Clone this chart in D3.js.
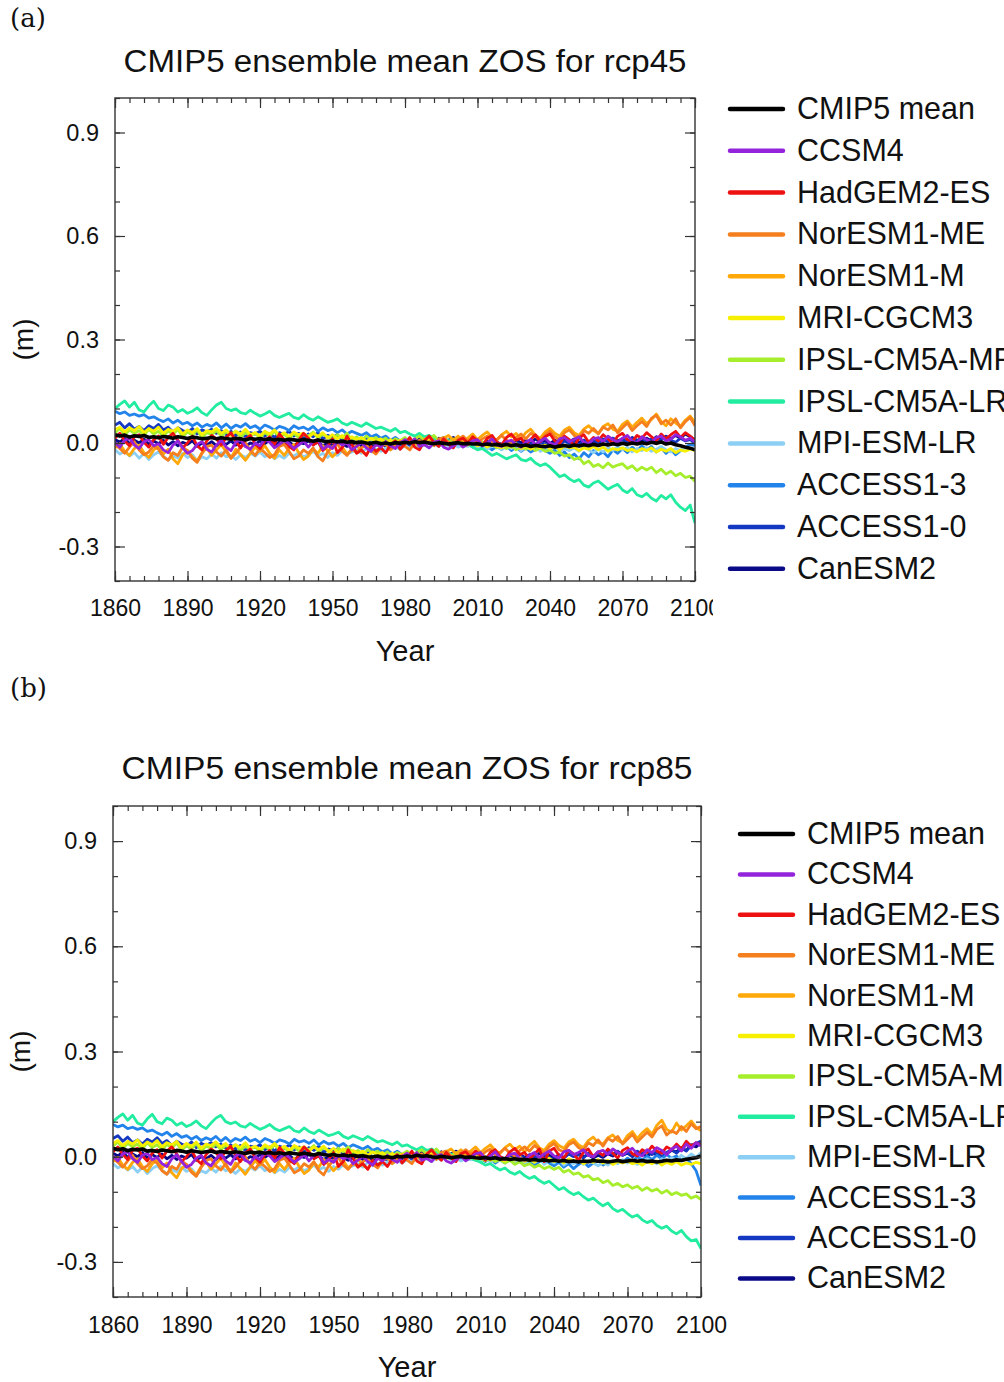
<!DOCTYPE html>
<html><head><meta charset="utf-8">
<script src="https://cdn.jsdelivr.net/npm/d3@7"></script>
<style>
html,body{margin:0;padding:0;background:#fff;overflow:hidden;}
svg{display:block;}
text{font-family:"Liberation Sans",Arial,Helvetica,sans-serif;fill:#111;}
</style></head><body>
<svg id="fig" width="1004" height="1382"></svg>
<script>
// ---------------- DATA ----------------
// sampling: every 2 years; historical 1860..2004, scenario 2006..2100; values in mm
const histYears = d3.range(1860, 2005, 2);
const futYears = d3.range(2006, 2101, 2);

const modelNames = ["CMIP5 mean","CCSM4","HadGEM2-ES","NorESM1-ME","NorESM1-M","MRI-CGCM3",
  "IPSL-CM5A-MR","IPSL-CM5A-LR","MPI-ESM-LR","ACCESS1-3","ACCESS1-0","CanESM2"];
const modelColors = ["#000000","#9324dc","#ee1111","#f57f1e","#ffa80a","#f6f000",
  "#a6ee2c","#22eca0","#8ccff4","#2283ea","#1438c2","#0a0a88"];

const yTickValues = [-0.3, 0.0, 0.3, 0.6, 0.9];
const yTickLabels = ["-0.3","0.0","0.3","0.6","0.9"];
const xTickValues = [1860,1890,1920,1950,1980,2010,2040,2070,2100];
const xTickLabels = ["1860","1890","1920","1950","1980","2010","2040","2070","2100"];

// ---- historical (shared by both scenarios) ----
const hist_CMIP5mean = [24,20,23,17,21, 19,22,16,18,15, 19,17,14,18,16, 13,17,15,12,14, 16,12,15,13,11,
  14,12,9,13,11, 13,10,12,9,11, 8,11,9,7,10, 8,5,9,6,4, 6,3,5,2,4, 1,3,0,-1,2, -2,0,-3,1,-1,
  2,0,4,1,3, 0,-2,1,-1,-3, -1,1,-2];
const hist_CCSM4 = [2,-12,8,14,-6, -16,4,10,-8,-2, -20,-28,-6,6,-14, -30,-22,-4,4,-18, -26,-6,8,-12,-22,
  2,10,-10,-18,0, -8,12,2,-14,-4, 8,-2,-16,-6,6, -12,4,10,-18,-8, -16,4,-6,0,-20, -10,2,-14,-24,-4,
  -12,4,-8,-16,0, 10,-2,12,-10,-4, -14,2,6,-12,-18, -8,2,-12];
const hist_HadGEM2ES = [14,28,6,-8,18, 24,2,-12,10,20, -4,16,28,8,-14, 0,20,-8,-20,6, 22,12,-6,16,30,
  4,-14,10,22,-2, -16,6,18,-4,26, 10,-10,-20,8,28, 14,-6,4,-22,-8, 12,-28,-14,20,-4, -30,-20,-36,-10,-24,
  -14,-28,-6,6,-18, -2,16,-12,-20,6, 20,2,-10,12,-4, -14,8,14];
const hist_NorESM1ME = [-4,-16,-30,-12,4, -20,-34,-26,-8,-18, -40,-50,-28,-36,-12, -22,-44,-56,-30,-10, -6,-26,-38,-20,-44,
  -30,-12,0,-22,-36, -16,-28,-42,-34,-10, -4,-24,-46,-38,-20, -30,-14,-40,-52,-26, -10,-2,-24,-36,-18, -28,-14,-6,-22,-32,
  -12,0,-18,-8,4, -10,-20,2,8,-6, 4,-8,12,16,2, -4,10,20];
const hist_NorESM1M = [-14,-2,-24,-36,-16, -6,-28,-42,-20,-10, -32,-18,-46,-60,-34, -22,-40,-52,-28,-14, -36,-20,-4,-26,-44,
  -18,-34,-50,-30,-12, -24,-8,-30,-44,-20, -36,-16,-4,-28,-48, -38,-18,-30,-8,-22, -40,-26,-12,-32,-20, -6,-24,-34,-14,-26,
  -10,-2,-20,-8,6, -4,12,2,-10,10, 18,4,-4,14,22, 8,20,2];
const hist_MRICGCM3 = [38,46,32,44,36, 48,30,42,34,46, 28,40,34,44,26, 38,30,42,24,36, 32,42,28,38,22,
  34,26,40,24,30, 20,34,26,38,22, 30,18,32,24,28, 16,28,20,30,14, 24,12,22,8,18, 10,16,4,14,6,
  12,0,10,-2,8, 2,10,-4,6,0, 8,-2,4,-6,2, -4,6,-2];
const hist_IPSLMR = [30,42,24,38,28, 36,22,40,26,34, 20,35,25,40,18, 32,22,38,16,30, 24,36,20,32,26,
  34,18,30,22,28, 15,30,20,34,18, 26,12,28,16,24, 20,32,14,26,18, 10,24,14,28,8, 18,6,20,10,16,
  4,14,0,12,6, 16,2,12,20,8, 10,22,6,14,0, 12,4,-4];
const hist_IPSLLR = [100,112,122,104,118, 96,90,108,121,100, 94,110,104,90,97, 86,92,102,88,80, 96,110,118,100,94,
  99,88,84,95,86, 78,84,92,80,74, 80,86,74,70,82, 72,66,76,68,60, 64,70,58,52,60, 54,48,58,50,42,
  46,40,34,42,30, 34,26,20,28,18, 22,14,8,16,6, 10,2,-6];
const hist_MPIESMLR = [-20,-32,-24,-38,-28, -44,-30,-48,-34,-26, -38,-50,-36,-44,-30, -42,-34,-52,-40,-46, -32,-44,-28,-40,-36,
  -48,-34,-42,-30,-38, -26,-40,-32,-46,-36, -44,-30,-38,-28,-40, -34,-24,-38,-30,-42, -28,-36,-22,-32,-26, -20,-30,-16,-26,-18,
  -24,-14,-20,-10,-18, -8,-16,-4,-12,-6, -14,-2,-10,0,-8, -4,-12,-6];
const hist_ACCESS13 = [92,85,90,80,84, 78,82,72,76,68, 62,70,58,66,55, 60,50,58,46,54, 48,58,44,55,42,
  52,46,56,44,50, 40,52,46,38,48, 44,36,50,42,46, 38,48,34,44,36, 40,30,38,26,34, 28,22,30,18,24,
  14,20,8,16,6, 12,2,10,-2,6, 0,8,-4,4,-6, 2,-8,0];
const hist_ACCESS10 = [52,60,44,56,40, 48,36,50,42,54, 38,46,32,44,36, 30,42,26,38,32, 40,28,36,24,34,
  22,32,18,30,26, 34,20,28,16,30, 24,34,20,28,14, 26,18,30,12,22, 16,24,8,20,10, 14,2,12,-2,8,
  0,10,-4,6,-6, 4,-8,6,-4,10, -2,6,-8,2,-6, 4,-4,2];
const hist_CanESM2 = [10,2,14,-2,8, 0,12,-4,6,-2, 8,-6,4,-8,2, -4,6,-10,0,-6, 4,-8,2,-4,6,
  -6,2,-10,0,-4, 6,-2,8,-6,2, -4,4,-8,2,-2, 6,-4,2,-8,0, -6,4,-2,-10,-4, 2,-8,-2,-12,-6,
  -2,-10,0,-6,4, -4,8,0,12,2, 10,0,14,4,8, 16,6,0];

// ---- rcp45 (2006..2100) ----
const rcp45_CMIP5mean = [-1,-3, -2,-5,-3,-6,-4, -7,-4,-8,-5,-9, -6,-10,-7,-9,-11, -8,-12,-9,-7,-10, -6,-9,-5,-8,-4,
  -7,-3,-6,-2,-5, -1,-4,0,-3,1, -2,2,-1,3,-3, 0,-5,-8,-12,-15, -20];
const rcp45_CCSM4 = [-4,6, 10,-8,0,12,-6, -10,4,8,-6,-12, 2,10,-4,6,14, 0,-6,12,16,4, 10,18,2,-2,12,
  16,4,20,10,2, 14,22,6,0,18, 10,2,16,20,6, 12,24,18,8,14, 2];
const rcp45_HadGEM2ES = [0,18, 6,-8,14,22,2, -6,16,26,8,14, -4,10,24,4,18, 26,6,-2,20,10, -8,14,24,2,16,
  6,24,12,-2,20, 28,10,4,22,14, 30,18,6,26,12, 24,34,16,30,20, 8];
const rcp45_NorESM1ME = [6,14, -2,12,20,4,10, 22,8,0,16,26, 12,28,20,6,24, 34,18,10,30,38, 22,14,36,28,42,
  26,46,38,52,30, 44,58,36,50,62, 48,72,80,56,66, 52,70,44,62,74, 50];
const rcp45_NorESM1M = [14,26, 10,22,32,16,8, 24,34,18,28,12, 30,40,22,14,32, 42,28,20,38,46, 30,22,40,50,36,
  28,48,56,40,34, 54,64,46,60,72, 56,68,84,62,50, 70,58,48,66,78, 60];
const rcp45_MRICGCM3 = [-6,2, -8,-2,-12,-4,-10, -14,-6,-12,-2,-16, -8,-18,-10,-14,-6, -16,-10,-20,-8,-14, -12,-22,-14,-18,-10,
  -20,-12,-24,-16,-20, -14,-22,-18,-26,-16, -22,-14,-26,-18,-24, -16,-28,-20,-24,-18, -22];
const rcp45_IPSLMR = [-2,4, -8,2,-10,-4,-14, -6,-16,-8,-20,-12, -18,-10,-22,-14,-24, -20,-30,-26,-38,-34, -48,-42,-60,-52,-68,
  -62,-72,-58,-70,-64, -60,-74,-66,-80,-70, -78,-70,-86,-76,-90, -82,-95,-88,-100,-96, -112];
const rcp45_IPSLLR = [-2,-12, -20,-16,-26,-36,-30, -38,-46,-40,-34,-48, -52,-44,-58,-66,-60, -70,-84,-98,-92,-104, -112,-106,-122,-128,-116,
  -110,-122,-134,-126,-120, -136,-144,-132,-150,-156, -146,-160,-168,-152,-162, -150,-172,-186,-196,-180, -232];
const rcp45_MPIESMLR = [-10,-2, -14,-6,-18,-8,-12, -20,-10,-16,-6,-22, -12,-18,-8,-24,-14, -20,-10,-26,-16,-22, -14,-24,-12,-20,-28,
  -18,-26,-14,-22,-10, -20,-12,-26,-16,-22, -14,-24,-18,-10,-20, -26,-16,-22,-12,-18, -20];
const rcp45_ACCESS13 = [-4,-12, -6,-16,-8,-20,-10, -18,-8,-22,-12,-24, -14,-26,-18,-10,-22, -30,-20,-36,-26,-42, -32,-46,-28,-40,-22,
  -34,-26,-40,-20,-30, -16,-28,-12,-24,-8, -20,-10,-26,-14,-30, -18,-34,-22,-12,-4, -8];
const rcp45_ACCESS10 = [-6,2, -10,-2,-12,0,-8, -14,-4,-10,2,-6, -12,-2,-8,4,-4, -10,0,-6,6,-2, 4,-6,8,-2,10,
  0,12,4,14,2, 10,0,14,6,16, 4,12,-2,10,18, 8,2,14,6,10, -2];
const rcp45_CanESM2 = [4,-4, 8,-2,6,-6,2, -4,6,-2,10,0, 8,-2,12,2,6, -2,8,0,10,4, 12,2,8,-2,6,
  0,10,4,14,6, 12,2,16,8,4, 14,6,18,10,20, 12,22,14,26,18, 10];

// ---- rcp85 (2006..2100) ----
const rcp85_CMIP5mean = [-1,-3, -4,-2,-6,-3,-7, -5,-8,-6,-9,-7, -10,-8,-11,-9,-12, -10,-13,-11,-14,-12, -15,-12,-14,-11,-13,
  -12,-15,-13,-11,-14, -12,-10,-13,-11,-14, -12,-15,-13,-10,-12, -9,-11,-7,-5,-3, 2];
const rcp85_CCSM4 = [-2,8, 12,-6,2,14,-4, -8,6,10,-4,-10, 4,12,-2,8,16, 2,-4,14,18,6, 12,20,4,0,14,
  18,6,22,12,4, 16,24,8,2,20, 12,26,18,6,22, 30,16,36,24,40, 30];
const rcp85_HadGEM2ES = [-2,16, 4,-10,12,20,0, -8,14,24,6,12, -6,8,22,-14,16, 24,4,-4,18,8, -10,12,22,0,14,
  4,22,10,-4,18, 26,8,2,20,12, 30,16,10,28,20, 36,22,44,30,40, 34];
const rcp85_NorESM1ME = [8,16, 0,14,22,6,12, 24,10,2,18,28, 16,32,22,10,28, 38,20,14,34,42, 26,18,40,32,48,
  30,52,44,58,36, 50,64,42,56,70, 56,78,88,62,74, 66,86,72,94,80, 86];
const rcp85_NorESM1M = [16,28, 12,24,34,18,10, 26,36,20,30,14, 32,44,26,18,36, 46,32,24,42,50, 34,26,46,56,40,
  36,54,62,46,40, 60,72,52,68,80, 64,90,104,78,70, 96,76,88,102,84, 74];
const rcp85_MRICGCM3 = [-4,2, -6,0,-10,-2,-8, -12,-4,-10,0,-14, -6,-16,-8,-12,-4, -14,-8,-18,-6,-12, -10,-20,-12,-16,-8,
  -18,-10,-22,-14,-18, -12,-20,-16,-24,-14, -20,-12,-24,-16,-22, -14,-24,-18,-22,-16, -20];
const rcp85_IPSLMR = [0,-6, -4,-12,-2,-14,-8, -18,-10,-22,-14,-26, -20,-30,-24,-34,-28, -36,-30,-44,-38,-50, -46,-58,-54,-66,-62,
  -74,-68,-82,-76,-86, -80,-90,-84,-96,-88, -98,-92,-104,-96,-108, -102,-110,-106,-118,-112, -122];
const rcp85_IPSLLR = [-4,-10, -16,-24,-20,-30,-38, -32,-44,-50,-42,-54, -62,-56,-68,-76,-70, -82,-94,-88,-100,-108, -102,-114,-124,-118,-130,
  -140,-132,-148,-156,-150, -162,-172,-166,-180,-188, -182,-196,-204,-198,-212, -220,-210,-228,-240,-236, -262];
const rcp85_MPIESMLR = [-8,-2, -12,-4,-16,-8,-10, -18,-8,-14,-4,-20, -10,-16,-6,-22,-12, -18,-8,-24,-14,-20, -12,-22,-10,-18,-26,
  -16,-24,-12,-20,-8, -18,-10,-22,-14,-6, -12,-20,-6,-16,-2, -10,4,-6,8,-2, 12];
const rcp85_ACCESS13 = [-4,-10, -6,-14,-4,-18,-8, -16,-6,-20,-10,-22, -12,-24,-14,-6,-18, -26,-16,-30,-20,-34, -22,-14,-28,-18,-10,
  -24,-12,-20,-8,-16, -4,-14,0,-10,2, -8,4,-6,6,-4, 2,-10,-4,-20,-40, -82];
const rcp85_ACCESS10 = [-4,4, -8,0,-10,2,-6, -12,-2,-8,4,-4, -10,0,-6,6,-2, -8,2,-4,8,0, 6,-4,10,0,12,
  2,14,6,16,4, 12,2,16,8,18, 6,14,0,12,20, 10,24,16,32,38, 45];
const rcp85_CanESM2 = [2,-6, 6,-4,4,-8,0, -6,4,-4,8,-2, 6,-4,10,0,4, -4,6,-2,8,2, 10,0,6,-4,4,
  -2,8,2,12,4, 10,0,14,6,2, 12,4,16,8,18, 14,26,18,34,28, 40];

const histSeries = [hist_CMIP5mean,hist_CCSM4,hist_HadGEM2ES,hist_NorESM1ME,hist_NorESM1M,hist_MRICGCM3,
  hist_IPSLMR,hist_IPSLLR,hist_MPIESMLR,hist_ACCESS13,hist_ACCESS10,hist_CanESM2];
const rcp45Series = [rcp45_CMIP5mean,rcp45_CCSM4,rcp45_HadGEM2ES,rcp45_NorESM1ME,rcp45_NorESM1M,rcp45_MRICGCM3,
  rcp45_IPSLMR,rcp45_IPSLLR,rcp45_MPIESMLR,rcp45_ACCESS13,rcp45_ACCESS10,rcp45_CanESM2];
const rcp85Series = [rcp85_CMIP5mean,rcp85_CCSM4,rcp85_HadGEM2ES,rcp85_NorESM1ME,rcp85_NorESM1M,rcp85_MRICGCM3,
  rcp85_IPSLMR,rcp85_IPSLLR,rcp85_MPIESMLR,rcp85_ACCESS13,rcp85_ACCESS10,rcp85_CanESM2];

// ---------------- DRAW ----------------
const svg = d3.select("#fig");
const years = histYears.concat(futYears);

const panels = [
  {tag:"(a)", tagY:27, title:"CMIP5 ensemble mean ZOS for rcp45", titleY:72, titleLen:563,
   fut:rcp45Series, L:115, R:695, T:98, B:581, xLabY:616, yearY:661, mX:33,
   legX:730, legY:109, legStep:41.8, clipRight:713},
  {tag:"(b)", tagY:697, title:"CMIP5 ensemble mean ZOS for rcp85", titleY:779, titleLen:571,
   fut:rcp85Series, L:113, R:701, T:806, B:1297, xLabY:1333, yearY:1377, mX:30,
   legX:740, legY:834, legStep:40.4, clipRight:1004}
];

panels.forEach((p, pi) => {
  const g = svg.append("g");
  const x = d3.scaleLinear().domain([1860, 2100]).range([p.L, p.R]);
  const y = d3.scaleLinear().domain([-0.4, 1.0]).range([p.B, p.T]);
  const W = p.R - p.L, H = p.B - p.T;

  g.append("text").attr("x", 10).attr("y", p.tagY)
    .style("font-family", "'DejaVu Serif','Liberation Serif',serif").style("font-size", "26px").text(p.tag);

  g.append("text").attr("x", (p.L + p.R) / 2).attr("y", p.titleY).attr("text-anchor", "middle")
    .attr("textLength", p.titleLen).attr("lengthAdjust", "spacingAndGlyphs")
    .style("font-size", "31px").text(p.title);

  const cid = "clip" + pi;
  svg.append("clipPath").attr("id", cid).append("rect")
    .attr("x", p.L).attr("y", p.T).attr("width", W).attr("height", H);
  const lid = "lclip" + pi;
  svg.append("clipPath").attr("id", lid).append("rect")
    .attr("x", 0).attr("y", p.B + 2).attr("width", p.clipRight).attr("height", 60);

  const line = d3.line().x((d, i) => x(years[i])).y(d => y(d / 1000));
  const dataG = g.append("g").attr("clip-path", `url(#${cid})`);
  const order = d3.range(modelNames.length - 1, -1, -1); // CanESM2 first, mean last
  order.forEach(k => {
    const vals = histSeries[k].concat(p.fut[k]);
    dataG.append("path").datum(vals).attr("d", line)
      .attr("fill", "none").attr("stroke", modelColors[k])
      .attr("stroke-width", k === 0 ? 3.6 : 2.8).attr("stroke-linejoin", "round");
  });

  g.append("rect").attr("x", p.L).attr("y", p.T).attr("width", W).attr("height", H)
    .attr("fill", "none").attr("stroke", "#333").attr("stroke-width", 1.4);

  const minorX = d3.range(1860, 2101, 6);
  const minorY = d3.range(-4, 11).map(v => v / 10);

  // bottom labels (clipped group)
  const labWrap = g.append("g").attr("clip-path", `url(#${lid})`);
  const axB = labWrap.append("g").attr("transform", `translate(0,${p.B})`)
    .call(d3.axisBottom(x).tickValues(xTickValues).tickSize(0).tickFormat((d, i) => xTickLabels[i]));
  axB.select(".domain").remove();
  axB.selectAll("line").remove();
  axB.selectAll("text").attr("dy", null).attr("y", p.xLabY - p.B)
    .style("font-size", "23px").style("font-family", "'Liberation Sans',Arial,sans-serif").attr("fill", "#111");

  const tickAxes = [
    [d3.axisBottom(x).tickValues(xTickValues).tickSize(-10), 0, p.B],
    [d3.axisBottom(x).tickValues(minorX).tickSize(-5), 0, p.B],
    [d3.axisTop(x).tickValues(xTickValues).tickSize(-10), 0, p.T],
    [d3.axisTop(x).tickValues(minorX).tickSize(-5), 0, p.T],
    [d3.axisLeft(y).tickValues(minorY).tickSize(-5), p.L, 0],
    [d3.axisRight(y).tickValues(yTickValues).tickSize(-10), p.R, 0],
    [d3.axisRight(y).tickValues(minorY).tickSize(-5), p.R, 0]
  ];
  tickAxes.forEach(([ax, tx, ty]) => {
    const a = g.append("g").attr("transform", `translate(${tx},${ty})`).call(ax.tickFormat(""));
    a.select(".domain").remove();
  });
  const axL = g.append("g").attr("transform", `translate(${p.L},0)`)
    .call(d3.axisLeft(y).tickValues(yTickValues).tickSize(-10).tickFormat((d, i) => yTickLabels[i]).tickPadding(16));
  axL.select(".domain").remove();
  axL.selectAll("text").style("font-size", "23.5px").style("font-family", "'Liberation Sans',Arial,sans-serif").attr("fill", "#111");
  g.selectAll(".tick line").attr("stroke", "#333").attr("stroke-width", 1.2);

  g.append("text").attr("x", (p.L + p.R) / 2).attr("y", p.yearY).attr("text-anchor", "middle")
    .style("font-size", "29px").text("Year");
  g.append("text").attr("transform", `translate(${p.mX},${(p.T + p.B) / 2}) rotate(-90)`)
    .attr("text-anchor", "middle").style("font-size", "28px").text("(m)");

  const lg = g.append("g");
  modelNames.forEach((name, k) => {
    const yy = p.legY + k * p.legStep;
    lg.append("line").attr("x1", p.legX).attr("x2", p.legX + 53).attr("y1", yy).attr("y2", yy)
      .attr("stroke", modelColors[k]).attr("stroke-width", 4.5).attr("stroke-linecap", "round");
    lg.append("text").attr("x", p.legX + 67).attr("y", yy + 10).style("font-size", "30.5px").text(name);
  });
});
</script>
</body></html>
